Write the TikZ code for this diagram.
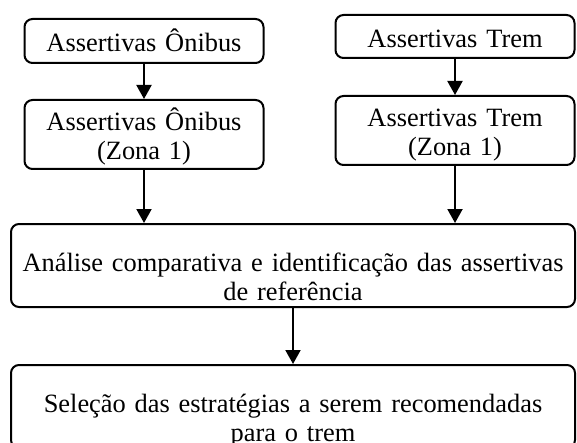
\documentclass[tikz,border=0pt]{standalone}
\usepackage{fontspec}
\setmainfont{Liberation Serif}
\usetikzlibrary{arrows.meta}

\begin{document}
\begin{tikzpicture}[x=0.5pt, y=-0.5pt, line width=1pt, >={Triangle[width=7.5pt,length=7pt]},
	every node/.style = {draw, rounded corners=4pt, anchor=north, inner sep=0pt,
	align=center, font=\fontsize{13.2}{14.5}\selectfont},
	source/.style = {text width=119.5pt, execute at begin node=\rule{0pt}{15.5pt},
	execute at end node=\rule[-4.5pt]{0pt}{0pt}},
	stage/.style = {text width=282pt, execute at begin node=\rule{0pt}{23.5pt},
	execute at end node=\rule[-3.5pt]{0pt}{0pt}}]

	\useasboundingbox (0,0) rectangle (577,443);
	\clip (0,0) rectangle (577,443);

	\node[source, minimum height=22pt] (onibus) at (144,18) {Assertivas Ônibus};
	\node[source] (onibusZona) at (144,99) {Assertivas Ônibus\\(Zona 1)};
	\node[source, minimum height=21.5pt] (trem) at (455,14) {Assertivas Trem};
	\node[source] (tremZona) at (455,95) {Assertivas Trem\\(Zona 1)};
	\node[stage] (analise) at (293,223) {Análise comparativa e identificação das assertivas\\de referência};
	\node[stage] (selecao) at (293,364) {Seleção das estratégias a serem recomendadas\\para o trem};

	\draw[->] (onibus) -- (onibusZona);
	\draw[->] (trem) -- (tremZona);
	\draw[->] (onibusZona.south) -- (onibusZona.south |- analise.north);
	\draw[->] (tremZona.south) -- (tremZona.south |- analise.north);
	\draw[->] (analise) -- (selecao);
\end{tikzpicture}
\end{document}
